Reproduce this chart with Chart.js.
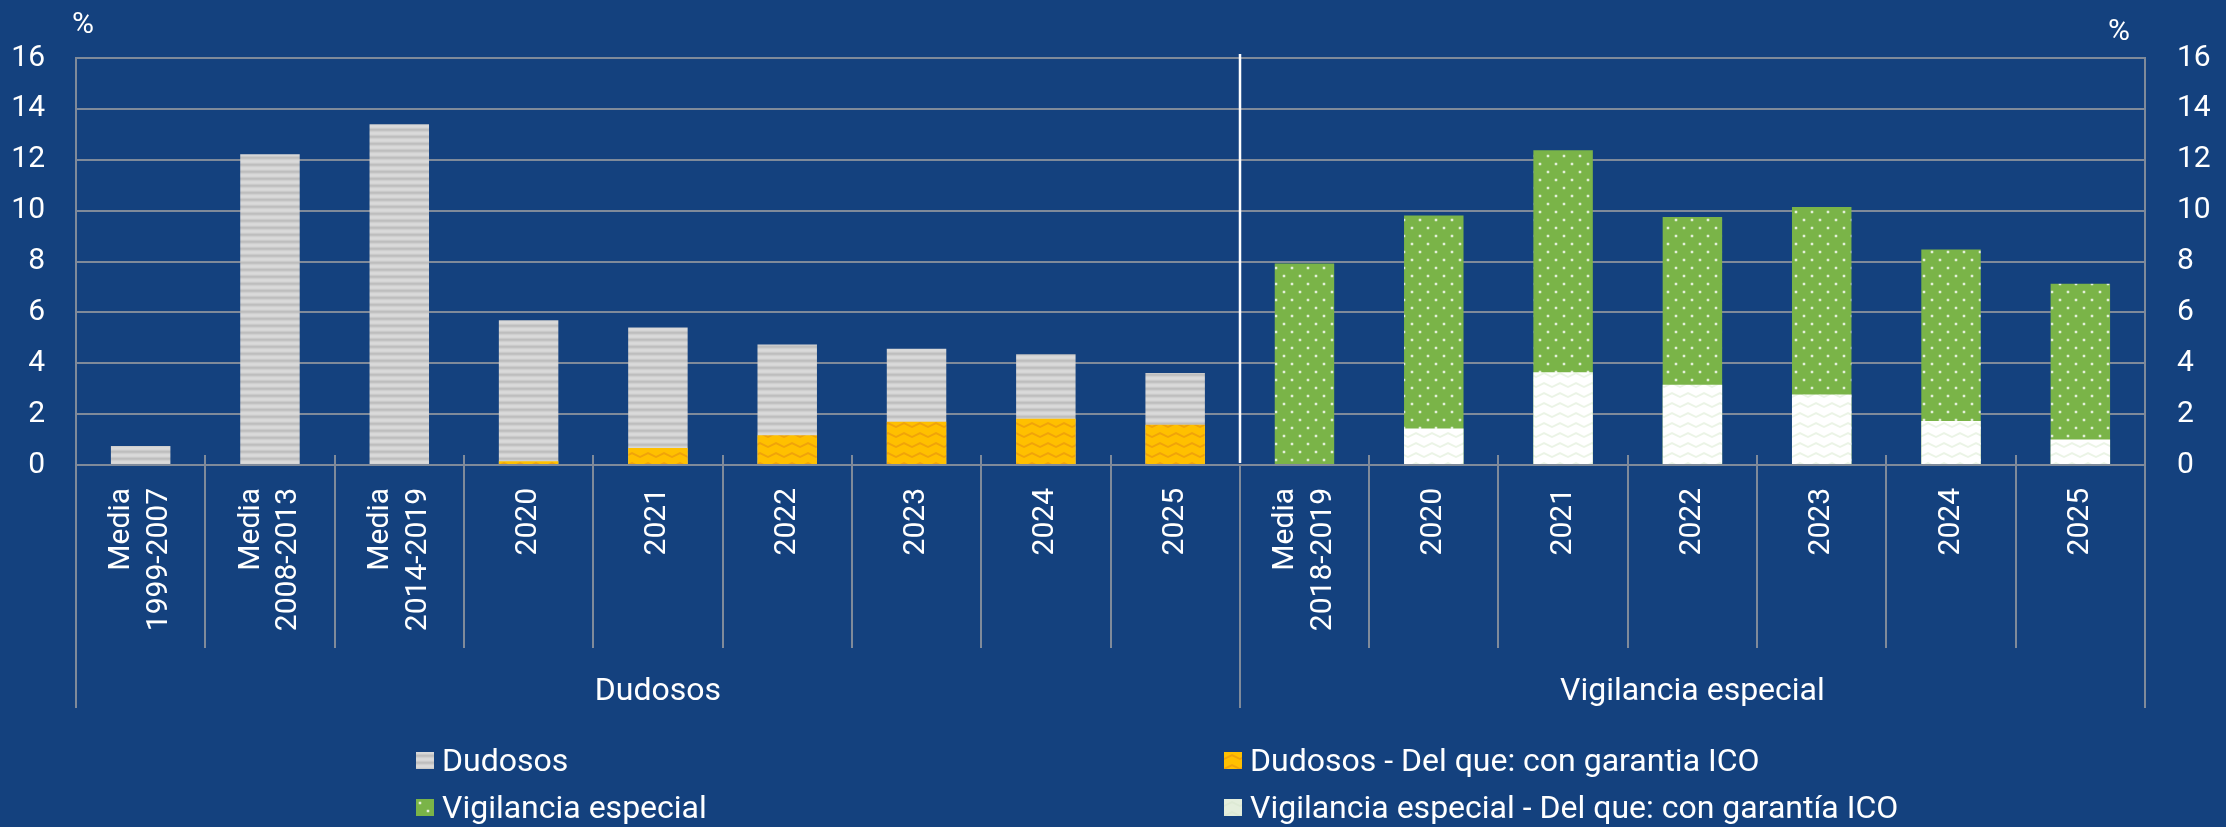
<!DOCTYPE html>
<html>
<head>
<meta charset="utf-8">
<script src="https://cdn.jsdelivr.net/npm/chart.js@4.4.1/dist/chart.umd.min.js"></script>
<style>
  html, body { margin: 0; padding: 0; background: #14417e; }
  #wrap { position: relative; width: 2226px; height: 827px; overflow: hidden; font-family: Roboto, "Liberation Sans", sans-serif; color: #fff; }
  #myChart { position: absolute; left: 0; top: 0; }
  .unit { position: absolute; font-size: 30px; line-height: 30px; }
  .legText { position: absolute; font-size: 32px; line-height: 32px; white-space: nowrap; }
  .swatch { position: absolute; width: 18px; height: 17px; }
</style>
</head>
<body>
<div id="wrap">
  <canvas id="myChart" width="2226" height="827"></canvas>
  <div class="unit" style="left:72px;top:8px">%</div>
  <div class="unit" style="left:2108px;top:15px">%</div>
  <div id="legend"></div>
</div>
<script>
// DATA
const categories = [
  ["Media", "1999-2007"], ["Media", "2008-2013"], ["Media", "2014-2019"],
  "2020", "2021", "2022", "2023", "2024", "2025",
  ["Media", "2018-2019"],
  "2020", "2021", "2022", "2023", "2024", "2025"
];
const groupLabels = ["Dudosos", "Vigilancia especial"];
const groupSizes = [9, 7];

const dudosos       = [0.75, 12.22, 13.40, 5.69, 5.41, 4.74, 4.57, 4.35, 3.62, null, null, null, null, null, null, null];
const dudososIco    = [null, null, null, 0.15, 0.67, 1.17, 1.70, 1.82, 1.58, null, null, null, null, null, null, null];
const vigilancia    = [null, null, null, null, null, null, null, null, null, 7.92, 9.81, 12.37, 9.75, 10.14, 8.47, 7.13];
const vigilanciaIco = [null, null, null, null, null, null, null, null, null, null, 1.43, 3.65, 3.15, 2.77, 1.73, 1.00];

const yTicks = [0, 2, 4, 6, 8, 10, 12, 14, 16];

// STYLE
const gridColor = "#7f8a9a";
const fontFamily = "Roboto, 'Liberation Sans', sans-serif";

function makeTile(w, h, draw) {
  const c = document.createElement("canvas");
  c.width = w; c.height = h;
  draw(c.getContext("2d"));
  return c;
}

const greyTile = makeTile(8, 7, g => {
  const rows = ["#dadada", "#d6d6d6", "#cacaca", "#bebebe", "#c2c2c2", "#cfcfcf", "#d8d8d8"];
  rows.forEach((col, i) => { g.fillStyle = col; g.fillRect(0, i, 8, 1); });
});

function waveTile(base, line) {
  return makeTile(16, 10, g => {
    g.fillStyle = base;
    g.fillRect(0, 0, 16, 10);
    g.strokeStyle = line;
    g.lineWidth = 2;
    g.beginPath();
    g.moveTo(-8, 3); g.lineTo(0, 7); g.lineTo(8, 3); g.lineTo(16, 7); g.lineTo(24, 3);
    g.stroke();
  });
}
const orangeTile = waveTile("#ffc000", "#f0a30a");
const whiteTile = waveTile("#ffffff", "#ebf4e6");
const whiteSwatch = waveTile("#e4eedc", "#dde9d4");

const greenTile = makeTile(16, 16, g => {
  g.fillStyle = "#7ab448";
  g.fillRect(0, 0, 16, 16);
  [[4, 4], [12, 12]].forEach(p => {
    g.fillStyle = "rgba(255,255,255,0.35)";
    g.beginPath(); g.arc(p[0], p[1], 1.8, 0, Math.PI * 2); g.fill();
    g.fillStyle = "rgba(255,255,255,0.9)";
    g.beginPath(); g.arc(p[0], p[1], 1, 0, Math.PI * 2); g.fill();
  });
});

const ctx = document.getElementById("myChart").getContext("2d");
const greyPattern = ctx.createPattern(greyTile, "repeat");
const orangePattern = ctx.createPattern(orangeTile, "repeat");
const whitePattern = ctx.createPattern(whiteTile, "repeat");
const greenPattern = ctx.createPattern(greenTile, "repeat");

// category labels (rotated, multi-line centered), group separators and labels
const groupPlugin = {
  id: "groups",
  afterDraw(chart) {
    const c = chart.ctx;
    const area = chart.chartArea;
    const x = chart.scales.x;
    const n = categories.length;
    const w = (x.right - x.left) / n;
    const edges = [0];
    groupSizes.forEach((s, i) => edges.push(edges[i] + s));

    c.save();
    c.fillStyle = "#ffffff";
    c.font = "30px " + fontFamily;
    c.textAlign = "right";
    c.textBaseline = "middle";
    categories.forEach((lab, i) => {
      const lines = Array.isArray(lab) ? lab : [lab];
      const cx = x.getPixelForValue(i);
      lines.forEach((ln, j) => {
        const lx = cx + (j - (lines.length - 1) / 2) * 37.5;
        c.save();
        c.translate(lx, area.bottom + 23);
        c.rotate(-Math.PI / 2);
        c.fillText(ln, 0, 0);
        c.restore();
      });
    });

    c.strokeStyle = gridColor;
    c.lineWidth = 2;
    for (let k = 0; k <= n; k++) {
      const px = Math.round(x.left + k * w);
      const isEdge = edges.includes(k);
      c.beginPath();
      c.moveTo(px, isEdge ? area.bottom : area.bottom - 10);
      c.lineTo(px, isEdge ? area.bottom + 243 : area.bottom + 183);
      c.stroke();
    }

    // white divider between the two blocks
    for (let j = 1; j < edges.length - 1; j++) {
      const sx = Math.round(x.left + edges[j] * w);
      c.strokeStyle = "#ffffff";
      c.lineWidth = 2.5;
      c.beginPath();
      c.moveTo(sx, area.top - 4);
      c.lineTo(sx, area.bottom - 2);
      c.stroke();
    }

    c.fillStyle = "#ffffff";
    c.font = "32px " + fontFamily;
    c.textAlign = "center";
    c.textBaseline = "alphabetic";
    groupLabels.forEach((lab, i) => {
      const cx = x.left + (edges[i] + groupSizes[i] / 2) * w;
      c.fillText(lab, cx, area.bottom + 235);
    });
    c.restore();
  }
};

const tickFont = { family: fontFamily, size: 30, lineHeight: 1.25 };

const myChart = new Chart(ctx, {
  type: "bar",
  data: {
    labels: categories,
    datasets: [
      { label: "Dudosos", data: dudosos, backgroundColor: greyPattern, order: 2 },
      { label: "Dudosos - Del que: con garantia ICO", data: dudososIco, backgroundColor: orangePattern, order: 1 },
      { label: "Vigilancia especial", data: vigilancia, backgroundColor: greenPattern, order: 2 },
      { label: "Vigilancia especial - Del que: con garantía ICO", data: vigilanciaIco, backgroundColor: whitePattern, order: 1 }
    ]
  },
  options: {
    responsive: false,
    animation: false,
    devicePixelRatio: 1,
    layout: { padding: { top: 58, left: 0, right: 0, bottom: 0 } },
    datasets: {
      bar: { grouped: false, categoryPercentage: 1, barPercentage: 0.46, borderWidth: 0 }
    },
    plugins: {
      legend: { display: false },
      tooltip: { enabled: false }
    },
    scales: {
      x: {
        grid: { display: false },
        border: { display: true, color: gridColor, width: 2 },
        ticks: { display: false },
        afterFit(s) { s.height = 362; }
      },
      y: {
        position: "left",
        min: yTicks[0],
        max: yTicks[yTicks.length - 1],
        afterBuildTicks(s) { s.ticks = yTicks.map(v => ({ value: v })); },
        ticks: { color: "#ffffff", font: tickFont, padding: 31 },
        grid: { color: gridColor, lineWidth: 2, drawTicks: false },
        border: { color: gridColor, width: 2 },
        afterFit(s) { s.width = 76; }
      },
      y2: {
        position: "right",
        min: yTicks[0],
        max: yTicks[yTicks.length - 1],
        afterBuildTicks(s) { s.ticks = yTicks.map(v => ({ value: v })); },
        ticks: { color: "#ffffff", font: tickFont, padding: 32 },
        grid: { drawOnChartArea: false, drawTicks: false },
        border: { color: gridColor, width: 2 },
        afterFit(s) { s.width = 81; }
      }
    }
  },
  plugins: [groupPlugin]
});

// LEGEND (2 x 2 grid)
const legendCols = [416, 1224];
const legendRows = [752, 799];
const legendTiles = [greyTile, orangeTile, greenTile, whiteSwatch];
const legendBox = document.getElementById("legend");
myChart.data.datasets.forEach((ds, i) => {
  const col = i % 2;
  const row = Math.floor(i / 2);
  const sw = document.createElement("div");
  sw.className = "swatch";
  sw.style.left = legendCols[col] + "px";
  sw.style.top = legendRows[row] + "px";
  sw.style.backgroundImage = "url(" + legendTiles[i].toDataURL() + ")";
  legendBox.appendChild(sw);

  const tx = document.createElement("div");
  tx.className = "legText";
  tx.style.left = (legendCols[col] + 26) + "px";
  tx.style.top = (legendRows[row] - 8) + "px";
  tx.innerHTML = ds.label;
  legendBox.appendChild(tx);
});
</script>
</body>
</html>
